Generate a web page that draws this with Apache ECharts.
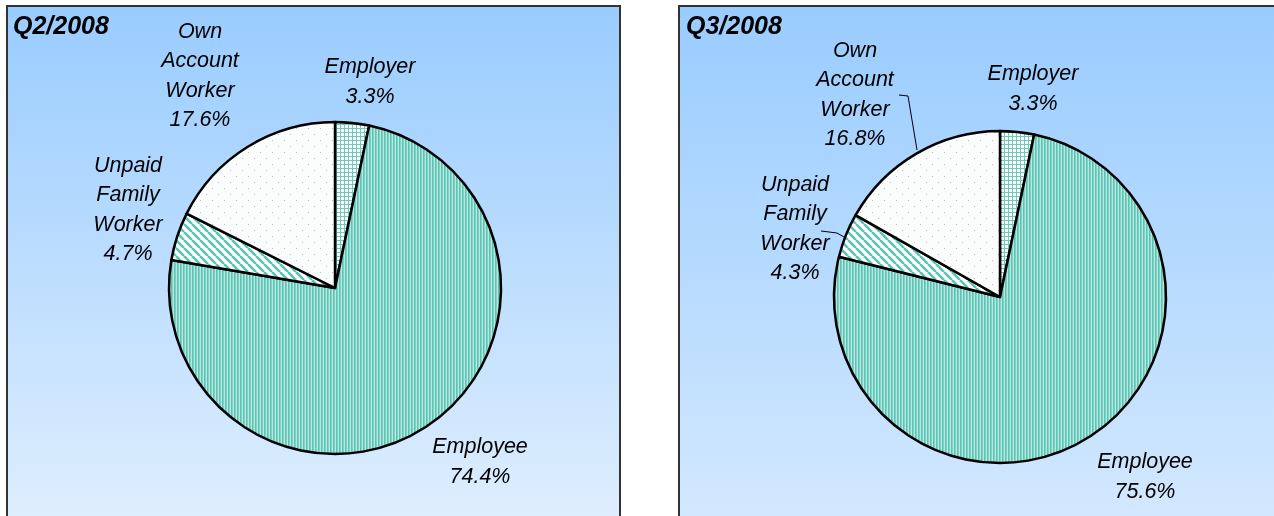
<!DOCTYPE html>
<html>
<head>
<meta charset="utf-8">
<script src="https://cdn.jsdelivr.net/npm/echarts@6/dist/echarts.min.js"></script>
<style>
    html, body { margin: 0; padding: 0; background: #fff; }
    #chart { width: 1274px; height: 516px; }
</style>
</head>
<body>
<div id="chart"></div>
<script>
    // data
    var categories = ['Employer', 'Employee', 'Unpaid\nFamily\nWorker', 'Own\nAccount\nWorker'];
    var quarters = ['Q2/2008', 'Q3/2008'];
    var q2Values = [3.3, 74.4, 4.7, 17.6];
    var q3Values = [3.3, 75.6, 4.3, 16.8];

    // label centres (pixels), per slice
    var q2LabelPos = [[370, 82], [480, 462], [128, 210], [200, 76]];
    var q3LabelPos = [[1033, 89], [1145, 477], [795, 229], [855, 95]];
    // leader lines on the right chart only
    var q3LeaderLines = {
        2: [[821, 231], [837, 233], [844, 237]],
        3: [[899, 95], [908, 96], [917, 150]]
    };

    var teal = '#5cc3b4';

    function makePattern(w, h, draw) {
        var c = document.createElement('canvas');
        c.width = w;
        c.height = h;
        var ctx = c.getContext('2d');
        draw(ctx);
        return {image: c, repeat: 'repeat'};
    }

    // grid (Employer)
    var gridPattern = makePattern(4, 4, function (ctx) {
        ctx.fillStyle = '#6fcabd';
        ctx.fillRect(0, 0, 4, 4);
        ctx.fillStyle = '#ffffff';
        ctx.fillRect(1, 1, 3, 3);
    });
    // vertical stripes (Employee)
    var vertPattern = makePattern(3, 3, function (ctx) {
        ctx.fillStyle = '#b9e8e1';
        ctx.fillRect(0, 0, 3, 3);
        ctx.fillStyle = teal;
        ctx.fillRect(0, 0, 1, 3);
        ctx.fillStyle = '#7fd2c6';
        ctx.fillRect(1, 0, 1, 3);
    });
    // diagonal stripes (Unpaid Family Worker)
    var diagPattern = makePattern(8, 8, function (ctx) {
        ctx.fillStyle = '#ffffff';
        ctx.fillRect(0, 0, 8, 8);
        ctx.strokeStyle = teal;
        ctx.lineWidth = 2.6;
        for (var k = -16; k <= 16; k += 8) {
            ctx.beginPath();
            ctx.moveTo(k, 0);
            ctx.lineTo(k + 8, 8);
            ctx.stroke();
        }
    });
    // dotted (Own Account Worker)
    var dotPattern = makePattern(12, 12, function (ctx) {
        ctx.fillStyle = '#fbfdfd';
        ctx.fillRect(0, 0, 12, 12);
        ctx.fillStyle = '#b8bcbc';
        ctx.fillRect(2, 2, 1, 1);
        ctx.fillRect(8, 8, 1, 1);
    });
    var patterns = [gridPattern, vertPattern, diagPattern, dotPattern];

    function buildData(values) {
        return values.map(function (v, i) {
            return {name: categories[i], value: v, itemStyle: {color: patterns[i]}};
        });
    }

    function pieSeries(name, values, center, labelPos, leaders) {
        return {
            name: name,
            type: 'pie',
            center: center,
            radius: 166,
            startAngle: 90,
            clockwise: true,
            animation: false,
            silent: true,
            itemStyle: {borderColor: '#000', borderWidth: 2.5},
            label: {
                show: true,
                position: 'outside',
                formatter: function (p) { return p.name + '\n' + p.value.toFixed(1) + '%'; },
                fontFamily: 'Liberation Sans, Arial, sans-serif',
                fontStyle: 'italic',
                fontSize: 21.5,
                lineHeight: 29.5,
                color: '#000',
                align: 'center'
            },
            labelLine: {show: true, lineStyle: {color: '#000', width: 1}},
            labelLayout: function (params) {
                var pos = labelPos[params.dataIndex];
                var res = {x: pos[0], y: pos[1], align: 'center', verticalAlign: 'middle'};
                var pts = leaders[params.dataIndex];
                res.labelLinePoints = pts ? pts : [[pos[0], pos[1]], [pos[0], pos[1]], [pos[0], pos[1]]];
                return res;
            },
            data: buildData(values)
        };
    }

    function panel(x, w, h) {
        return {
            type: 'rect',
            shape: {x: x, y: 6, width: w, height: h},
            style: {
                fill: new echarts.graphic.LinearGradient(0, 0, 0, 1, [
                    {offset: 0, color: '#99ccff'},
                    {offset: 1, color: '#e1effe'}
                ]),
                stroke: '#333',
                lineWidth: 2
            },
            z: -10
        };
    }

    function title(x, text) {
        return {
            type: 'text',
            x: x,
            y: 27,
            style: {
                text: text,
                fontFamily: 'Liberation Sans, Arial, sans-serif',
                fontStyle: 'italic',
                fontWeight: 'bold',
                fontSize: 25,
                fill: '#000',
                verticalAlign: 'middle'
            },
            z: 10
        };
    }

    var chart = echarts.init(document.getElementById('chart'), null, {renderer: 'canvas'});
    var option = {
        backgroundColor: '#ffffff',
        animation: false,
        graphic: [
            panel(7, 613, 530),
            panel(679, 620, 640),
            title(13, quarters[0]),
            title(686, quarters[1])
        ],
        series: [
            pieSeries(quarters[0], q2Values, [335, 288], q2LabelPos, {}),
            pieSeries(quarters[1], q3Values, [1000, 297], q3LabelPos, q3LeaderLines)
        ]
    };
    chart.setOption(option);
</script>
</body>
</html>
